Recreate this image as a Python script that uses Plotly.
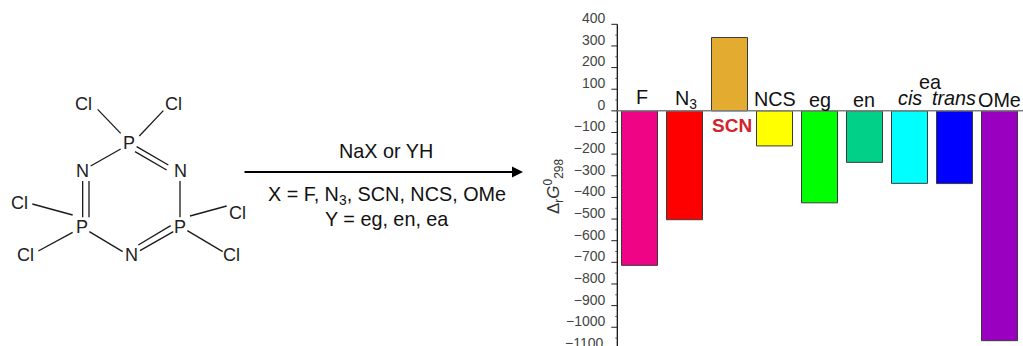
import plotly.graph_objects as go

W, H = 1023, 346

categories = ["F", "N3", "SCN", "NCS", "eg", "en", "ea cis", "ea trans", "OMe"]
values = [-714, -503, 339, -162, -425, -238, -335, -336, -1062]
bar_colors = ["#EE0484", "#FF0000", "#E3AC31", "#FFFF00", "#00FF00", "#00D088", "#00FFFF", "#0000FF", "#9A00C0"]
tick_values = [400, 300, 200, 100, 0, -100, -200, -300, -400, -500, -600, -700, -800, -900, -1000, -1100]
minor_tick_values = [350, 250, 150, 50, -50, -150, -250, -350, -450, -550, -650, -750, -850, -950, -1050]

# Diagram atoms: label, x px, y px
atoms = [("P", 129, 142.7), ("N", 82.3, 170.7), ("N", 180, 170.7), ("P", 81.7, 226.7), ("P", 180, 226.7),
         ("N", 131, 255), ("Cl", 83.3, 104), ("Cl", 173.3, 104), ("Cl", 19.3, 203.3), ("Cl", 25.7, 255),
         ("Cl", 237.3, 213.3), ("Cl", 231.7, 255)]
# Diagram bonds in 3x crop pixels (x1, y1, x2, y2), crop origin (0, 80)
bonds = [(293, 88, 362, 160), (490, 92, 418, 168), (362, 207, 272, 258), (410, 200, 505, 255), (405, 215, 500, 270),
         (248, 303, 248, 412), (267, 303, 267, 412), (97, 372, 218, 405), (115, 513, 218, 457), (268, 455, 368, 515),
         (415, 495, 512, 437), (420, 512, 520, 455), (540, 303, 540, 412), (570, 408, 680, 378), (562, 452, 668, 515)]

FONT = "Liberation Sans, Arial, sans-serif"
AXIS_X = 617.3
px = lambda x: x / W
py = lambda y: 1 - y / H

fig = go.Figure()
fig.add_trace(go.Bar(x=list(range(len(values))), y=values, width=0.8,
                     marker=dict(color=bar_colors, line=dict(color="#3a3a3a", width=1)),
                     showlegend=False, hoverinfo="skip"))
fig.add_trace(go.Scatter(x=[0], y=[0], yaxis="y2", mode="markers", marker=dict(opacity=0),
                         showlegend=False, hoverinfo="skip"))

ann = []
def text(s, x, y, size=19.8, color="#111111", **kw):
    ann.append(dict(text=s, x=px(x), y=py(y), xref="paper", yref="paper", showarrow=False,
                    xanchor=kw.get("xanchor", "center"), yanchor="middle",
                    font=dict(size=size, color=color, family=FONT)))

for lab, x, y in atoms:
    text(lab, x, y, size=18, color="#222222")
for x1, y1, x2, y2 in bonds:
    fig.add_shape(type="line", xref="paper", yref="paper",
                  x0=px(x1 / 3), y0=py(80 + y1 / 3), x1=px(x2 / 3), y1=py(80 + y2 / 3),
                  line=dict(color="#1a1a1a", width=1.3))

# vertical axis line from the top tick to the bottom of the picture, with its ticks
fig.add_shape(type="line", xref="paper", yref="y", x0=px(AXIS_X), x1=px(AXIS_X), y0=tick_values[0], y1=-1086.6,
              line=dict(color="#000000", width=1.2))
for v in tick_values[:-1]:
    fig.add_shape(type="line", xref="paper", yref="y", x0=px(AXIS_X - 6), x1=px(AXIS_X), y0=v, y1=v,
                  line=dict(color="#222222", width=1))
for v in minor_tick_values:
    fig.add_shape(type="line", xref="paper", yref="y", x0=px(AXIS_X - 2), x1=px(AXIS_X), y0=v, y1=v,
                  line=dict(color="#555555", width=1))
# baseline at zero
fig.add_shape(type="line", xref="paper", yref="y", x0=px(AXIS_X), x1=1, y0=0, y1=0,
              line=dict(color="#808080", width=1.5))

ann.append(dict(x=px(523), y=py(172), ax=-280, ay=0, xref="paper", yref="paper", text="", showarrow=True,
                arrowhead=2, arrowsize=1.1, arrowwidth=2, arrowcolor="#000000"))
text("NaX or YH", 386, 150.5)
text("X = F, N<sub>3</sub>, SCN, NCS, OMe", 387, 195)
text("Y = eg, en, ea", 386, 219)

text("F", 641.5, 97)
text("N<sub>3</sub>", 686, 99)
text("<b>SCN</b>", 731.5, 125.5, size=19, color="#D2232A")
text("NCS", 774.5, 99)
text("eg", 820, 100)
text("en", 863.5, 100)
text("ea", 929.5, 82)
text("<i>cis</i>", 910, 98)
text("<i>trans</i>", 954, 98)
text("OMe", 999.5, 100)

ann.append(dict(text="\u0394<sub>r</sub><i>G</i><sup>0</sup><sub>298</sub>", x=px(553), y=py(187),
                xref="paper", yref="paper", showarrow=False, textangle=-90,
                font=dict(size=17, color="#333333", family=FONT)))

axis_ticks = tick_values[:-1]
last_label = str(tick_values[-1]).replace("-", "\u2212")
text(last_label, 605, 343, size=14, color="#444444", xanchor="right")

fig.update_layout(
    width=W, height=H, autosize=False, margin=dict(l=0, r=0, t=0, b=0),
    paper_bgcolor="white", plot_bgcolor="white", annotations=ann,
    xaxis=dict(domain=[0, 1], range=[-14.211, 8.522], showgrid=False, showticklabels=False,
               ticks="", showline=False, zeroline=False),
    yaxis=dict(domain=[0, 1], range=[-1086.6, 512.3], showgrid=False,
               zeroline=False, showline=False, ticks="", showticklabels=False),
    yaxis2=dict(overlaying="y", range=[-1114.3, 484.6], anchor="free", position=AXIS_X / W, side="left",
                showgrid=False, zeroline=False, showline=False, ticks="", ticklabelstandoff=12,
                tickmode="array", tickvals=axis_ticks, ticktext=[str(v).replace("-", "\u2212") for v in axis_ticks],
                tickfont=dict(size=14, color="#444444", family=FONT)),
)
fig.write_html("out.html", config={"displayModeBar": False},
               post_script="document.body.style.margin='0';document.documentElement.style.overflow='hidden';")
